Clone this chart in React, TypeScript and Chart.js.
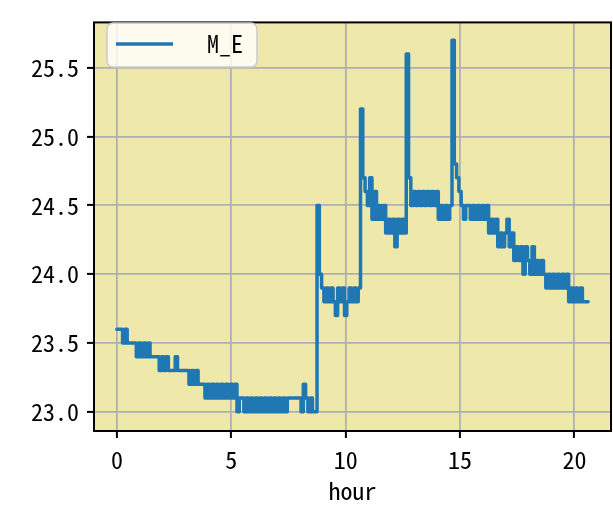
import React, { useEffect, useRef } from "react";
import { Chart, registerables } from "chart.js";

Chart.register(...registerables);

// Temperature readings, one row per hour, sampled every 0.1 hour (col = tenths)
const TEMP_ROWS: number[][] = [
  [23.6, 23.6, 23.6, 23.5, 23.6, 23.5, 23.5, 23.5, 23.5, 23.4], // 0
  [23.5, 23.4, 23.5, 23.4, 23.5, 23.4, 23.4, 23.4, 23.4, 23.3], // 1
  [23.4, 23.3, 23.4, 23.3, 23.3, 23.3, 23.4, 23.3, 23.3, 23.3], // 2
  [23.3, 23.3, 23.2, 23.3, 23.2, 23.3, 23.2, 23.2, 23.2, 23.1], // 3
  [23.2, 23.1, 23.2, 23.1, 23.2, 23.1, 23.2, 23.1, 23.2, 23.1], // 4
  [23.2, 23.1, 23.2, 23.0, 23.1, 23.1, 23.0, 23.1, 23.0, 23.1], // 5
  [23.0, 23.1, 23.0, 23.1, 23.0, 23.1, 23.0, 23.1, 23.0, 23.1], // 6
  [23.0, 23.1, 23.0, 23.1, 23.0, 23.1, 23.1, 23.1, 23.1, 23.1], // 7
  [23.1, 23.0, 23.2, 23.1, 23.0, 23.1, 23.0, 23.0, 24.5, 24.0], // 8
  [23.9, 23.8, 23.9, 23.8, 23.9, 23.8, 23.7, 23.9, 23.8, 23.9], // 9
  [23.7, 23.8, 23.9, 23.8, 23.9, 23.8, 23.9, 25.2, 24.7, 24.6], // 10
  [24.5, 24.7, 24.4, 24.6, 24.4, 24.5, 24.4, 24.5, 24.3, 24.4], // 11
  [24.3, 24.4, 24.2, 24.4, 24.3, 24.4, 24.3, 25.6, 24.7, 24.5], // 12
  [24.6, 24.5, 24.6, 24.5, 24.6, 24.5, 24.6, 24.5, 24.6, 24.5], // 13
  [24.6, 24.4, 24.5, 24.4, 24.5, 24.4, 24.5, 25.7, 24.8, 24.7], // 14
  [24.6, 24.5, 24.4, 24.5, 24.5, 24.4, 24.5, 24.4, 24.5, 24.4], // 15
  [24.5, 24.4, 24.5, 24.3, 24.4, 24.3, 24.4, 24.2, 24.3, 24.2], // 16
  [24.3, 24.4, 24.2, 24.3, 24.1, 24.2, 24.1, 24.2, 24.0, 24.2], // 17
  [24.1, 24.0, 24.2, 24.0, 24.1, 24.0, 24.1, 24.0, 23.9, 24.0], // 18
  [23.9, 24.0, 23.9, 24.0, 23.9, 24.0, 23.9, 24.0, 23.8, 23.9], // 19
  [23.8, 23.9, 23.8, 23.9, 23.8, 23.8, 23.8], // 20
];

const SERIES_LABEL = "M_E";
const X_TITLE = "hour";
const X_TICKS = [0, 5, 10, 15, 20];
const Y_TICKS = [23.0, 23.5, 24.0, 24.5, 25.0, 25.5];

const FONT_FAMILY = "'Noto Sans Mono CJK JP', 'Noto Sans Mono CJK SC', 'Liberation Mono', monospace";

export default function App() {
  const ref = useRef<HTMLCanvasElement | null>(null);

  useEffect(() => {
    if (!ref.current) return;
    const points: { x: number; y: number }[] = [];
    TEMP_ROWS.forEach((row, h) =>
      row.forEach((v, i) => points.push({ x: h + i / 10, y: v }))
    );

    const bgPlugin = {
      id: "bgPlugin",
      beforeDraw(chart: any) {
        const { ctx, chartArea: a } = chart;
        ctx.save();
        ctx.fillStyle = "#eee8aa";
        ctx.fillRect(a.left, a.top, a.right - a.left, a.bottom - a.top);
        ctx.restore();
      },
      afterDatasetsDraw(chart: any) {
        const { ctx, chartArea: a } = chart;
        ctx.save();
        ctx.strokeStyle = "#000";
        ctx.lineWidth = 2;
        ctx.strokeRect(a.left, a.top, a.right - a.left, a.bottom - a.top);
        ctx.restore();
      },
      afterDraw(chart: any) {
        const { ctx } = chart;
        ctx.save();
        const x = 107, y = 23, w = 150, h = 44, r = 6;
        ctx.beginPath();
        ctx.moveTo(x + r, y);
        ctx.arcTo(x + w, y, x + w, y + h, r);
        ctx.arcTo(x + w, y + h, x, y + h, r);
        ctx.arcTo(x, y + h, x, y, r);
        ctx.arcTo(x, y, x + w, y, r);
        ctx.closePath();
        ctx.fillStyle = "rgba(255,255,255,0.8)";
        ctx.fill();
        ctx.strokeStyle = "#cccccc";
        ctx.lineWidth = 1.5;
        ctx.stroke();
        ctx.beginPath();
        ctx.moveTo(116, 44);
        ctx.lineTo(173, 44);
        ctx.strokeStyle = "#1f77b4";
        ctx.lineWidth = 3.5;
        ctx.stroke();
        ctx.fillStyle = "#000";
        ctx.font = `24px ${FONT_FAMILY}`;
        ctx.textAlign = "left";
        ctx.textBaseline = "alphabetic";
        ctx.fillText(SERIES_LABEL, 207, 53);
        ctx.restore();
      },
    };

    const chart = new Chart(ref.current, {
      type: "line",
      data: {
        datasets: [
          {
            label: SERIES_LABEL,
            data: points,
            borderColor: "#1f77b4",
            backgroundColor: "#1f77b4",
            borderWidth: 3.5,
            pointRadius: 0,
            tension: 0,
            stepped: "middle",
            borderJoinStyle: "round",
            borderCapStyle: "round",
          },
        ],
      },
      options: {
        animation: false,
        responsive: false,
        layout: { padding: { left: 0, top: 10, right: 2, bottom: 0 } },
        plugins: { legend: { display: false }, tooltip: { enabled: false } },
        scales: {
          x: {
            type: "linear",
            min: -1.0,
            max: 21.6,
            afterBuildTicks: (s: any) => {
              s.ticks = X_TICKS.map((v) => ({ value: v }));
            },
            afterFit: (s: any) => {
              s.height = 83;
            },
            ticks: {
              color: "#000",
              font: { family: FONT_FAMILY, size: 24 },
              padding: 7,
              maxRotation: 0,
              autoSkip: false,
              callback: (v: any) => String(v),
            },
            grid: {
              color: "#b0b0b0",
              lineWidth: 1.8,
              tickColor: "#000",
              tickLength: 7,
              tickWidth: 2,
            },
            border: { display: false },
            title: {
              display: true,
              text: X_TITLE,
              color: "#000",
              font: { family: FONT_FAMILY, size: 24 },
              padding: { top: 0, bottom: 9 },
            },
          },
          y: {
            type: "linear",
            min: 22.86,
            max: 25.83,
            afterBuildTicks: (s: any) => {
              s.ticks = Y_TICKS.map((v) => ({ value: v }));
            },
            afterFit: (s: any) => {
              s.width = 94;
            },
            ticks: {
              color: "#000",
              font: { family: FONT_FAMILY, size: 24 },
              padding: 8,
              autoSkip: false,
              callback: (v: any) => Number(v).toFixed(1),
            },
            grid: {
              color: "#b0b0b0",
              lineWidth: 1.8,
              tickColor: "#000",
              tickLength: 7,
              tickWidth: 2,
            },
            border: { display: false },
          },
        },
      },
      plugins: [bgPlugin],
    } as any);
    return () => chart.destroy();
  }, []);

  return (
    <div style={{ position: "absolute", left: 0, top: 0, width: 613, height: 514, background: "#fff" }}>
      <canvas ref={ref} width={613} height={514} style={{ display: "block" }} />
    </div>
  );
}
